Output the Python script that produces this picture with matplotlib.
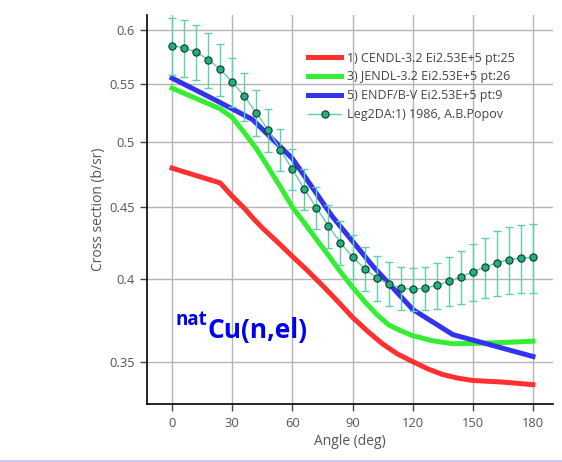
import matplotlib
matplotlib.use('Agg')
import matplotlib.pyplot as plt
from matplotlib.ticker import FixedLocator, NullLocator
from matplotlib.lines import Line2D

plt.rcParams['font.family'] = ['Open Sans', 'DejaVu Sans']

# experimental data: Leg2DA 1986, A.B.Popov
ang_exp = [0, 6, 12, 18, 24, 30, 36, 42, 48, 54, 60, 66, 72, 78, 84, 90,
           96, 102, 108, 114, 120, 126, 132, 138, 144, 150, 156, 162, 168, 174, 180]
xs_exp = [0.585, 0.583, 0.579, 0.572, 0.563, 0.5515, 0.539, 0.5245, 0.510, 0.494,
          0.4785, 0.4634, 0.4495, 0.4363, 0.4247, 0.4150, 0.4071, 0.4010, 0.3972,
          0.3944, 0.3937, 0.3944, 0.3961, 0.3988, 0.4016, 0.4050, 0.4080, 0.4111,
          0.4131, 0.4141, 0.4146]
err_exp = [0.027, 0.027, 0.026, 0.0255, 0.0237, 0.022, 0.021, 0.0195, 0.0176, 0.0168,
           0.016, 0.0153, 0.0153, 0.015, 0.015, 0.015, 0.0147, 0.0147, 0.0144,
           0.0137, 0.0136, 0.0137, 0.0146, 0.0158, 0.0172, 0.0185, 0.020, 0.0215,
           0.0225, 0.023, 0.023]

# evaluated libraries
ang_cendl = [0, 24, 30, 36, 40, 45, 52.5, 60, 67.5, 75, 82.5, 90, 97.5, 105, 112.5,
             120, 127.5, 135, 142.5, 150, 165, 180]
xs_cendl = [0.4794, 0.468, 0.4580, 0.4492, 0.4425, 0.4350, 0.4252, 0.4153, 0.4059,
            0.3961, 0.3862, 0.3761, 0.3677, 0.3602, 0.3543, 0.3500, 0.3459, 0.3427,
            0.3407, 0.3394, 0.3385, 0.3371]

ang_jendl = [0, 24, 30, 36, 42, 48, 54, 60, 66, 72, 78, 84, 90, 96, 102, 108,
             114, 120, 130, 140, 150, 165, 180]
xs_jendl = [0.546, 0.528, 0.5206, 0.508, 0.495, 0.480, 0.465, 0.450, 0.4385, 0.427,
            0.416, 0.405, 0.395, 0.386, 0.378, 0.3715, 0.368, 0.3651, 0.362, 0.3603,
            0.3605, 0.361, 0.3618]

ang_endf = [0, 20, 40, 60, 80, 100, 120, 140, 180]
xs_endf = [0.555, 0.537, 0.519, 0.487, 0.443, 0.409, 0.381, 0.3657, 0.3529]

labels = ['1) CENDL-3.2 Ei2.53E+5 pt:25', '3) JENDL-3.2 Ei2.53E+5 pt:26',
          '5) ENDF/B-V Ei2.53E+5 pt:9', 'Leg2DA:1) 1986, A.B.Popov']

fig = plt.figure(figsize=(5.62, 4.62), dpi=100)
ax = fig.add_axes([0.2616, 0.1245, 0.7224, 0.843])

ax.plot(ang_cendl, xs_cendl, color='#ff3030', lw=3.6, label=labels[0], zorder=3)
ax.plot(ang_jendl, xs_jendl, color='#33ee33', lw=3.6, label=labels[1], zorder=3)
ax.plot(ang_endf, xs_endf, color='#3333ee', lw=3.6, label=labels[2], zorder=3)
ax.errorbar(ang_exp, xs_exp, yerr=err_exp, fmt='none', ecolor='#5fd0ac',
            elinewidth=1, capsize=3.2, capthick=1, zorder=4)
ax.plot(ang_exp, xs_exp, color='#5fd0ac', lw=1, marker='o', ms=5.2,
        mfc='#1fb080', mec='#16352a', mew=0.8, label=labels[3], zorder=5)

ax.set_yscale('log')
ax.set_xlim(-12.5, 190)
ax.set_ylim(0.3264, 0.615)
ax.xaxis.set_major_locator(FixedLocator([0, 30, 60, 90, 120, 150, 180]))
ax.yaxis.set_major_locator(FixedLocator([0.35, 0.4, 0.45, 0.5, 0.55, 0.6]))
ax.yaxis.set_minor_locator(NullLocator())
ax.set_yticklabels(['0.35', '0.4', '0.45', '0.5', '0.55', '0.6'])

ax.grid(True, color='#b4b4b4', lw=1)
ax.set_axisbelow(True)
for s in ['top', 'right']:
    ax.spines[s].set_visible(False)
for s in ['left', 'bottom']:
    ax.spines[s].set_color('black')
    ax.spines[s].set_linewidth(1.2)
ax.tick_params(axis='both', length=5, width=1, color='#444444',
               labelcolor='#555555', labelsize=9.3, pad=4)

ax.set_xlabel('Angle (deg)', fontsize=10, color='#555555', labelpad=3)
ax.set_ylabel('Cross section (b/sr)', fontsize=10, color='#555555', labelpad=2)

ax.legend(loc='upper left', bbox_to_anchor=(0.382, 0.922), frameon=False,
          fontsize=9, handlelength=2.6, handletextpad=0.5, labelspacing=0.46,
          borderpad=0, labelcolor='#444444')

ax.text(0.069, 0.205, 'nat', transform=ax.transAxes, fontsize=13.5,
        fontweight='bold', color='#0000ee', va='baseline')
ax.text(0.150, 0.171, 'Cu(n,el)', transform=ax.transAxes, fontsize=19,
        fontweight='bold', color='#0000ee', va='baseline')

fig.add_artist(Line2D([0, 1], [0.0025, 0.0025], color='#c8c8f8', lw=2))

fig.savefig('out.png', dpi=100)
